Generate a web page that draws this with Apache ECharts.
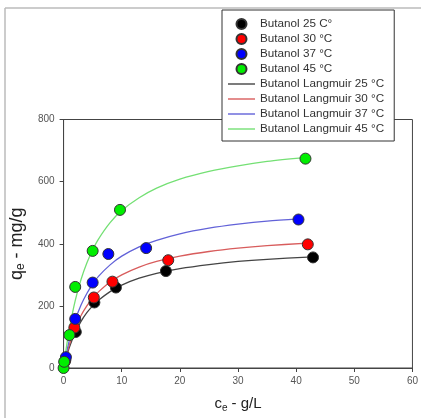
<!DOCTYPE html>
<html>
<head>
<meta charset="utf-8">
<script src="https://cdn.jsdelivr.net/npm/echarts@6/dist/echarts.min.js"></script>
<style>
  html, body { margin: 0; padding: 0; background: #fff; }
  #chart { width: 421px; height: 418px; }
</style>
</head>
<body>
<div id="chart"></div>
<script>
// measured points [ce g/L, qe mg/g]
const pts25 = [[0.3, 25], [2.1, 116], [5.3, 211], [9, 259], [17.6, 312], [42.9, 356]]
const pts30 = [[0.2, 20], [1.85, 130], [5.2, 227], [8.4, 278], [18, 347], [42, 398]]
const pts37 = [[0.4, 35], [2, 158], [5, 275], [7.7, 367], [14.2, 386], [40.4, 478]]
const pts45 = [[0, 0], [0.1, 20], [1, 106], [2, 261], [5, 377], [9.7, 509], [41.6, 674]]

// Langmuir curves
const fit25 = [[0, 0], [0.5, 36], [1, 67], [2, 114], [3, 150], [4, 178], [5, 200], [6, 218], [8, 246], [10, 267], [13, 289], [16, 305], [20, 320], [25, 333], [30, 343], [35, 350], [42.9, 358]]
const fit30 = [[0, 0], [0.5, 41], [1, 75], [2, 129], [3, 169], [4, 200], [5, 225], [6, 245], [8, 277], [10, 300], [13, 325], [16, 343], [20, 360], [25, 375], [30, 386], [35, 394], [42, 402]]
const fit37 = [[0, 0], [0.5, 49], [1, 90], [2, 154], [3, 203], [4, 240], [5, 270], [6, 295], [8, 332], [10, 360], [13, 390], [16, 411], [20, 432], [25, 450], [30, 463], [35, 473], [40.4, 480]]
const fit45 = [[0, 0], [0.5, 69], [1, 127], [2, 217], [3, 285], [4, 338], [5, 380], [6, 415], [8, 468], [10, 507], [13, 548], [16, 579], [20, 608], [25, 633], [30, 651], [35, 665], [41.6, 678]]

const xTicks = [0, 10, 20, 30, 40, 50, 60]
const yTicks = [0, 200, 400, 600, 800]

const pointNames = ['Butanol 25 C°', 'Butanol 30 °C', 'Butanol 37 °C', 'Butanol 45 °C']
const fitNames = ['Butanol Langmuir 25 °C', 'Butanol Langmuir 30 °C', 'Butanol Langmuir 37 °C', 'Butanol Langmuir 45 °C']

const font = 'Liberation Sans, Arial, sans-serif'
const chart = echarts.init(document.getElementById('chart'))

const scatter = (name, data, color) => ({
  type: 'scatter',
  name,
  data,
  symbolSize: 11,
  z: 5,
  itemStyle: { color, borderColor: '#333', borderWidth: 1, opacity: 1 }
})
const curve = (name, data, color) => ({
  type: 'line',
  name,
  data,
  smooth: 0.3,
  symbol: 'none',
  z: 3,
  lineStyle: { color, width: 1.3 },
  itemStyle: { color }
})

// thin bar used as legend icon for the fitted lines
const lineIcon = 'path://M0,0L27,0L27,1.4L0,1.4Z'

chart.setOption({
  animation: false,
  textStyle: { fontFamily: font },
  grid: {
    left: 62.5, right: 8.5, top: 119.5, bottom: 46.5,
    show: true, borderColor: '#444', borderWidth: 1
  },
  graphic: [
    { type: 'line', shape: { x1: 5, y1: 8, x2: 421, y2: 8 }, style: { stroke: '#bbb', lineWidth: 1.5 } },
    { type: 'line', shape: { x1: 5, y1: 8, x2: 5, y2: 418 }, style: { stroke: '#bbb', lineWidth: 1.5 } }
  ],
  legend: {
    orient: 'vertical',
    left: 222, top: 10,
    padding: [8, 10, 6, 6],
    itemWidth: 27, itemHeight: 10, itemGap: 3,
    backgroundColor: '#fff',
    borderColor: '#333', borderWidth: 1,
    textStyle: { fontSize: 11.7, lineHeight: 11, color: '#333', fontFamily: font },
    data: pointNames.map(name => ({ name }))
      .concat(fitNames.map(name => ({ name, icon: lineIcon }))),
    z: 10
  },
  xAxis: {
    type: 'value',
    min: xTicks[0], max: xTicks[xTicks.length - 1], interval: 10,
    name: '{a|c}{b|e}{a| - g/L}',
    nameLocation: 'middle',
    nameGap: 27,
    nameTextStyle: {
      rich: {
        a: { fontSize: 15, color: '#222', lineHeight: 18, verticalAlign: 'middle', fontFamily: font },
        b: { fontSize: 10, color: '#222', lineHeight: 10, verticalAlign: 'bottom', fontFamily: font }
      }
    },
    axisLine: { lineStyle: { color: '#444', width: 1 } },
    axisTick: { show: true, length: 4, lineStyle: { color: '#444' } },
    axisLabel: { fontSize: 10, color: '#555', margin: 8 },
    splitLine: { show: false }
  },
  yAxis: {
    type: 'value',
    min: yTicks[0], max: yTicks[yTicks.length - 1], interval: 200,
    name: '{a|q}{b|e}{a| - mg/g}',
    nameLocation: 'middle',
    nameRotate: 90,
    nameGap: 31,
    nameTextStyle: {
      rich: {
        a: { fontSize: 18, color: '#222', lineHeight: 20, verticalAlign: 'middle', fontFamily: font },
        b: { fontSize: 12, color: '#222', lineHeight: 12, verticalAlign: 'bottom', fontFamily: font }
      }
    },
    axisLine: { show: true, lineStyle: { color: '#444', width: 1 } },
    axisTick: { show: true, length: 4, lineStyle: { color: '#444' } },
    axisLabel: { fontSize: 10, color: '#555', margin: 9 },
    splitLine: { show: false }
  },
  series: [
    curve(fitNames[0], fit25, '#444444'),
    curve(fitNames[1], fit30, '#d85c5c'),
    curve(fitNames[2], fit37, '#6262d8'),
    curve(fitNames[3], fit45, '#74e074'),
    scatter(pointNames[0], pts25, '#000000'),
    scatter(pointNames[1], pts30, '#ff0000'),
    scatter(pointNames[2], pts37, '#0000ff'),
    scatter(pointNames[3], pts45, '#00ee00')
  ]
})
</script>
</body>
</html>
